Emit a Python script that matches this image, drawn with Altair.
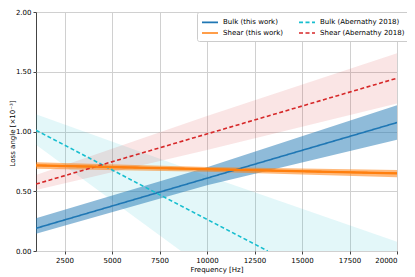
import altair as alt
import pandas as pd

# ---- data ----
series_names = ["Bulk (this work)", "Bulk (Abernathy 2018)", "Shear (this work)", "Shear (Abernathy 2018)"]
series_colors = ["#1f77b4", "#17becf", "#ff7f0e", "#d62728"]

# fitted lines (endpoints)
bulk_this_x = [1000, 20000]
bulk_this_y = [0.19, 1.075]
shear_this_x = [1000, 20000]
shear_this_y = [0.716, 0.650]
bulk_aber_x = [1000, 13200]
bulk_aber_y = [1.01, 0.0]
shear_aber_x = [1000, 20000]
shear_aber_y = [0.56, 1.446]

# uncertainty bands
band_x = [1000, 10000, 20000]
bulk_this_lo = [0.145, 0.55, 0.93]
bulk_this_hi = [0.275, 0.70, 1.22]
shear_this_lo = [0.688, 0.663, 0.618]
shear_this_hi = [0.742, 0.702, 0.677]
bulk_aber_lo = [0.89, -0.16, -1.30]
bulk_aber_hi = [1.145, 0.63, 0.077]
shear_aber_lo = [0.51, 0.845, 1.235]
shear_aber_hi = [0.635, 1.13, 1.655]

x_ticks = [2500, 5000, 7500, 10000, 12500, 15000, 17500, 20000]
y_ticks = [0, 0.25, 0.5, 0.75, 1.0, 1.25, 1.5, 1.75, 2.0]

# ---- build tables ----
line_rows = []
for name, xs, ys in [
    ("Bulk (this work)", bulk_this_x, bulk_this_y),
    ("Shear (this work)", shear_this_x, shear_this_y),
    ("Bulk (Abernathy 2018)", bulk_aber_x, bulk_aber_y),
    ("Shear (Abernathy 2018)", shear_aber_x, shear_aber_y),
]:
    for xv, yv in zip(xs, ys):
        line_rows.append({"series": name, "f": xv, "y": yv})
lines_df = pd.DataFrame(line_rows)

band_rows = []
for name, lo, hi in [
    ("Bulk (this work)", bulk_this_lo, bulk_this_hi),
    ("Shear (this work)", shear_this_lo, shear_this_hi),
    ("Bulk (Abernathy 2018)", bulk_aber_lo, bulk_aber_hi),
    ("Shear (Abernathy 2018)", shear_aber_lo, shear_aber_hi),
]:
    for xv, l, h in zip(band_x, lo, hi):
        band_rows.append({"series": name, "f": xv, "lo": l, "hi": h})
bands_df = pd.DataFrame(band_rows)

xscale = alt.Scale(domain=[1000, 20000], nice=False, zero=False)
yscale = alt.Scale(domain=[0, 2], nice=False)

x_enc = alt.X("f:Q", scale=xscale, title="Frequency [Hz]",
              axis=alt.Axis(values=x_ticks, format="d"))
y_enc = alt.Y("lo:Q", scale=yscale, title="Loss angle [×10⁻³]",
              axis=alt.Axis(values=y_ticks, format=".2f", titleX=-21, titleY=121,
                            titleAngle=270, titleBaseline="bottom", titleAlign="center"))

def band_layer(name, color, opacity):
    return alt.Chart(bands_df).transform_filter(
        alt.datum.series == name
    ).mark_area(clip=True, strokeWidth=0, color=color, opacity=opacity).encode(
        x=x_enc, y=y_enc, y2="hi:Q",
    )

b1 = band_layer("Bulk (Abernathy 2018)", "#17becf", 0.12)
b2 = band_layer("Shear (Abernathy 2018)", "#d62728", 0.12)
b3 = band_layer("Bulk (this work)", "#1f77b4", 0.5)
b4 = band_layer("Shear (this work)", "#ff7f0e", 0.55)

lines = alt.Chart(lines_df).mark_line(clip=True, strokeWidth=1.6).encode(
    x=x_enc,
    y=alt.Y("y:Q", scale=yscale),
    color=alt.Color("series:N", scale=alt.Scale(domain=series_names, range=series_colors),
                    title=None),
    strokeDash=alt.StrokeDash("series:N",
                              scale=alt.Scale(domain=series_names,
                                              range=[[1, 0], [4, 2.5], [1, 0], [4, 2.5]]),
                              title=None),
)

orange_thick = alt.Chart(lines_df).transform_filter(
    alt.datum.series == "Shear (this work)"
).mark_line(clip=True, strokeWidth=2.2, color="#ff7f0e").encode(
    x=x_enc, y=alt.Y("y:Q", scale=yscale),
)

chart = alt.layer(b1, b2, b3, b4, lines, orange_thick).properties(
    width=361, height=239,
    autosize=alt.AutoSizeParams(type="none"),
    padding={"left": 28, "top": 4, "right": 10, "bottom": 26},
).configure_view(
    stroke="#444444", strokeWidth=1
).configure_axis(
    labelFont="DejaVu Sans", titleFont="DejaVu Sans",
    labelFontSize=7, titleFontSize=7, labelColor="#000000", titleColor="#000000",
    titleFontWeight="normal",
    gridColor="#d0d0d0", gridWidth=1, domain=False,
    tickColor="#444444", tickSize=3, labelPadding=2,
).configure_axisX(titlePadding=2).configure_legend(
    orient="none", legendX=161, legendY=0, columns=2, direction="horizontal",
    labelFont="DejaVu Sans", labelFontSize=7, labelColor="#000000",
    symbolType="M-1,0H2.2", symbolSize=100, symbolStrokeWidth=1.6,
    fillColor="white", strokeColor="#cccccc", cornerRadius=2,
    padding=4, rowPadding=1, columnPadding=12, labelOffset=10,
)

chart.save("out.html", embed_options={"renderer": "svg", "actions": False})
